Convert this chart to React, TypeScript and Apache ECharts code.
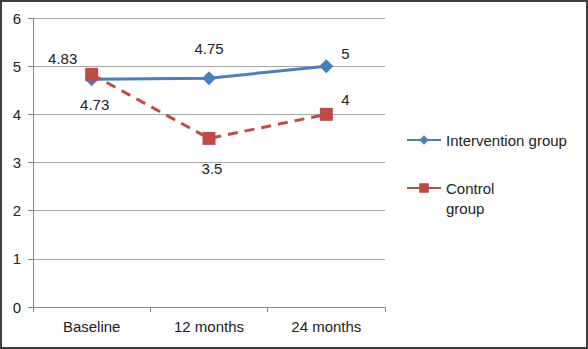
import React, { useEffect, useRef } from "react";
import * as echarts from "echarts";

const categories = ["Baseline", "12 months", "24 months"];
const interventionValues = [4.73, 4.75, 5];
const controlValues = [4.83, 3.5, 4];
const yTicks = [0, 1, 2, 3, 4, 5, 6];
const seriesNames = ["Intervention group", "Control group"];

const interventionOffsets: [number, number][] = [[3, 25], [0, -30], [19, -13]];
const controlOffsets: [number, number][] = [[-29, -16], [3, 30], [19, -15]];

const FONT = "Liberation Sans";

export default function App() {
  const ref = useRef<HTMLDivElement>(null);
  useEffect(() => {
    if (!ref.current) return;
    const chart = echarts.init(ref.current, null, { renderer: "svg" });
    const mk = (vals: number[], offs: [number, number][]) =>
      vals.map((v, i) => ({
        value: v,
        label: { show: true, position: "inside", offset: offs[i], formatter: String(v) },
      }));
    chart.setOption({
      animation: false,
      textStyle: { fontFamily: FONT },
      grid: { left: 33, right: 203, top: 18, bottom: 42, containLabel: false },
      xAxis: {
        type: "category",
        data: categories,
        boundaryGap: true,
        axisLine: { lineStyle: { color: "#868686", width: 1 } },
        axisTick: { show: true, length: 5, lineStyle: { color: "#868686" } },
        axisLabel: { color: "#222", fontSize: 15, margin: 12, fontFamily: FONT },
      },
      yAxis: {
        type: "value",
        min: yTicks[0],
        max: yTicks[yTicks.length - 1],
        interval: 1,
        axisLine: { show: true, lineStyle: { color: "#868686", width: 1 } },
        axisTick: { show: true, length: 5, lineStyle: { color: "#868686" } },
        splitLine: { lineStyle: { color: "#a6a6a6", width: 1 } },
        axisLabel: { color: "#222", fontSize: 15, margin: 12, fontFamily: FONT },
      },
      legend: {
        orient: "vertical",
        left: 401,
        top: 125,
        itemWidth: 34,
        itemHeight: 12,
        itemGap: 8,
        textStyle: { color: "#222", fontSize: 15, fontFamily: FONT, lineHeight: 20 },
        formatter: (name: string) => (name === seriesNames[1] ? " \nControl\ngroup" : name),
        data: [
          { name: seriesNames[0] },
          { name: seriesNames[1], lineStyle: { type: "solid" } },
        ],
      },
      series: [
        {
          name: seriesNames[0],
          type: "line",
          data: mk(interventionValues, interventionOffsets),
          symbol: "diamond",
          symbolSize: 14,
          itemStyle: { color: "#4a7ebb" },
          lineStyle: { color: "#4a7ebb", width: 3 },
          label: { color: "#222", fontSize: 15, fontFamily: FONT },
          z: 3,
        },
        {
          name: seriesNames[1],
          type: "line",
          data: mk(controlValues, controlOffsets),
          symbol: "rect",
          symbolSize: 13,
          itemStyle: { color: "#be4b48" },
          lineStyle: { color: "#be4b48", width: 3, type: [10, 7] },
          label: { color: "#222", fontSize: 15, fontFamily: FONT },
          z: 4,
        },
      ],
    });
    return () => chart.dispose();
  }, []);
  return (
    <div
      style={{
        position: "fixed",
        left: 0,
        top: 0,
        width: 588,
        height: 349,
        boxSizing: "border-box",
        border: "2px solid #3c3c3c",
        background: "#fff",
      }}
    >
      <div ref={ref} style={{ position: "absolute", left: -2, top: -2, width: 588, height: 349 }} />
    </div>
  );
}
